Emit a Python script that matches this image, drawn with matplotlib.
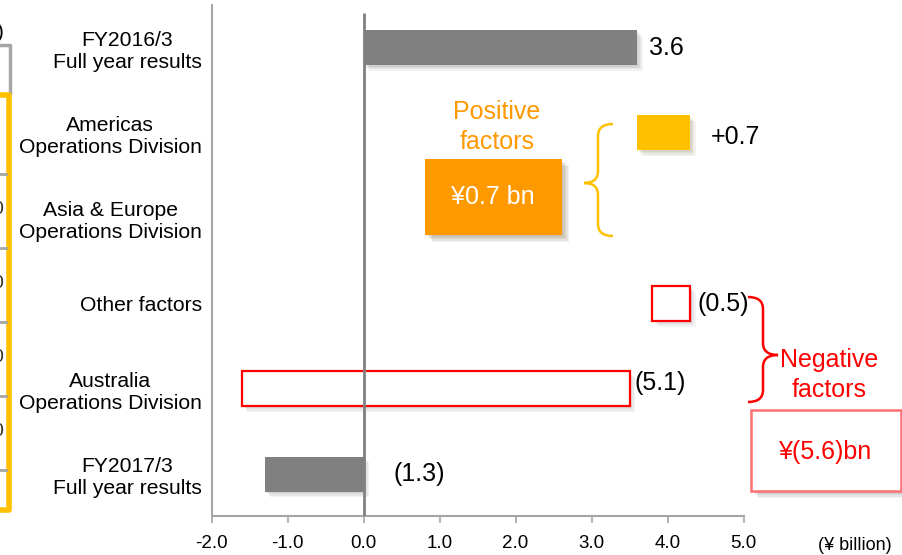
import numpy as np
import matplotlib.pyplot as plt
import matplotlib.patheffects as pe
from matplotlib.path import Path
from matplotlib.patches import PathPatch, Rectangle
from matplotlib.transforms import Affine2D

plt.rcParams['font.family'] = ['Liberation Sans', 'DejaVu Sans']

# data
categories = ["FY2016/3\nFull year results", "Americas\nOperations Division",
              "Asia & Europe\nOperations Division", "Other factors",
              "Australia\nOperations Division", "FY2017/3\nFull year results"]
bar_left = [0.0, 3.6, 0.0, 3.8, -1.6, -1.3]
bar_right = [3.6, 4.3, 0.0, 4.3, 3.5, 0.0]
kinds = ["total", "up", "up", "down", "down", "total"]
value_labels = ["3.6", "+0.7", "", "(0.5)", "(5.1)", "(1.3)"]
xticks = [-2.0, -1.0, 0.0, 1.0, 2.0, 3.0, 4.0, 5.0]
positive_total = "¥0.7 bn"
negative_total = "¥(5.6)bn"

W, H = 902, 555
fig = plt.figure(figsize=(W / 100, H / 100), dpi=100)
ax = fig.add_axes([211.5 / W, 1 - 516 / H, 532 / W, 511 / H])

# pixel coords (top-left origin) -> figure
pix = Affine2D().scale(1 / W, -1 / H).translate(0, 1) + fig.transFigure

def soft_shadow(n=4, a=0.06):
    # a few faint offset copies, looks like a blurred drop shadow
    fx = [pe.SimplePatchShadow(offset=(k, -k), alpha=a, rho=0.3) for k in range(1, n + 1)]
    return fx + [pe.Normal()]

y = np.arange(len(categories))
for i in range(len(categories)):
    w = bar_right[i] - bar_left[i]
    if w == 0:
        continue
    if kinds[i] == "total":
        b = ax.barh(y[i], w, left=bar_left[i], height=0.41, color="#808080", zorder=2)
    elif kinds[i] == "up":
        b = ax.barh(y[i], w, left=bar_left[i], height=0.41, color="#FFC000", zorder=2)
    else:
        b = ax.barh(y[i], w, left=bar_left[i], height=0.41, facecolor="white",
                    edgecolor="#FF0000", linewidth=1.6, zorder=2)
    b[0].set_path_effects(soft_shadow())

# value labels
pads = [0.15, 0.27, 0, 0.09, 0.07, 0.39]
dys = [0.0, 0.05, 0, 0.0, -0.07, 0.0]
for i, lab in enumerate(value_labels):
    if lab:
        ax.text(bar_right[i] + pads[i], y[i] + dys[i], lab, fontsize=18,
                va="center", ha="left", color="black")

# zero line
ax.plot([0, 0], [5.49, -0.41], color="#808080", lw=2, zorder=3, solid_capstyle="butt")

ax.set_xlim(-2, 5)
ax.set_ylim(5.49, -0.5)
ax.set_xticks(xticks)
ax.set_xticklabels([f"{t:.1f}" for t in xticks], fontsize=13.5)
ax.set_yticks(y)
ax.set_yticklabels(categories, fontsize=15.2, multialignment="center")
ax.tick_params(axis="y", length=0, pad=7)
ax.tick_params(axis="x", direction="out", length=5, width=1.2, color="#A6A6A6", pad=9)
for s in ["top", "right"]:
    ax.spines[s].set_visible(False)
for s in ["left", "bottom"]:
    ax.spines[s].set_color("#A6A6A6")
    ax.spines[s].set_linewidth(1.5)

fig.text(818 / W, 1 - 545 / H, "(¥ billion)", fontsize=13, va="center", ha="left")

# positive factors annotation
fig.text(497 / W, 1 - 112 / H, "Positive", color="#FF9900", fontsize=18, ha="center", va="center")
fig.text(497 / W, 1 - 142 / H, "factors", color="#FF9900", fontsize=18, ha="center", va="center")
ob = Rectangle((425, 235), 137, -76, transform=pix, facecolor="#FF9900",
               edgecolor="none", zorder=4)
ob.set_path_effects(soft_shadow(5, 0.07))
fig.add_artist(ob)
fig.text(493 / W, 1 - 197 / H, positive_total, color="white", fontsize=18,
         ha="center", va="center", zorder=5)

def brace(pts, color):
    x0, ytop, xm, xt, ytip, ybot = pts
    verts = [(x0, ytop), (xm, ytop), (xm, ytop + 12), (xm, ytip - 12),
             (xm, ytip), (xt, ytip), (xm, ytip), (xm, ytip + 12),
             (xm, ybot - 12), (xm, ybot), (x0, ybot)]
    codes = [Path.MOVETO, Path.CURVE3, Path.CURVE3, Path.LINETO,
             Path.CURVE3, Path.CURVE3, Path.CURVE3, Path.CURVE3,
             Path.LINETO, Path.CURVE3, Path.CURVE3]
    fig.add_artist(PathPatch(Path(verts, codes), transform=pix, fill=False,
                             edgecolor=color, lw=1.8, zorder=4))

brace((613, 124, 598, 584, 183, 236), "#FFC000")
brace((748, 297, 763, 778, 355, 402), "#FF0000")

# negative factors annotation
fig.text(829 / W, 1 - 360 / H, "Negative", color="#FF0000", fontsize=18, ha="center", va="center")
fig.text(829 / W, 1 - 390 / H, "factors", color="#FF0000", fontsize=18, ha="center", va="center")
nb = Rectangle((751, 491), 150, -81, transform=pix, facecolor="white",
               edgecolor="#FF7070", lw=1.8, zorder=4)
nb.set_path_effects(soft_shadow(5, 0.07))
fig.add_artist(nb)
fig.text(826 / W, 1 - 452 / H, negative_total, color="#FF0000", fontsize=18,
         ha="center", va="center", zorder=5)

# cropped table at the left edge
fig.add_artist(plt.Line2D([0, 10, 10], [45, 45, 93], transform=pix, color="#A6A6A6", lw=2.5))
fig.add_artist(plt.Line2D([0, 9, 9, 0], [95, 95, 510, 510], transform=pix, color="#FFC000", lw=4))
for yy in [174, 248, 322, 396, 470]:
    fig.add_artist(plt.Line2D([0, 6], [yy, yy], transform=pix, color="#A6A6A6", lw=2))
fig.text(4 / W, 1 - 33 / H, ")", fontsize=15, ha="right", va="center")
for yy in [210, 284, 358, 432]:
    fig.text(3 / W, 1 - yy / H, "0", fontsize=14, ha="right", va="center", color="#333333")

fig.savefig("out.png", dpi=100)
